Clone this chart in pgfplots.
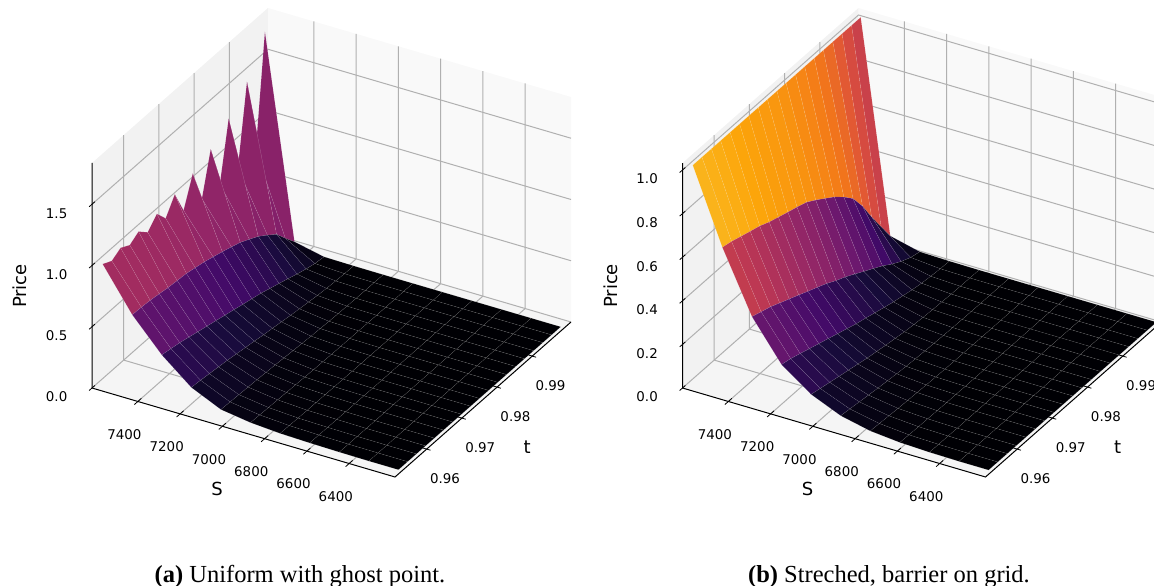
\documentclass[border=0pt]{standalone}
\usepackage{fontspec}
\setmainfont{DejaVu Sans}
\newfontfamily\capfont{Liberation Serif}
\usepackage{pgfplots}
\pgfplotsset{compat=1.18}

% inferno
\pgfplotsset{colormap={inferno}{
  rgb255=(0,0,4) rgb255=(22,11,57) rgb255=(66,10,104) rgb255=(106,23,110)
  rgb255=(147,38,103) rgb255=(188,55,84) rgb255=(221,81,58) rgb255=(243,120,25)
  rgb255=(252,165,10) rgb255=(246,215,70) rgb255=(252,255,164)}}

\definecolor{wallS}{gray}{0.95}
\definecolor{wallT}{gray}{0.975}
\definecolor{wallZ}{gray}{0.9625}
\definecolor{gridc}{HTML}{B0B0B0}

\pgfplotsset{panel/.style={
  set layers,
  clip=false,
  anchor=south west,
  x={(-0.2113pt,0.06206pt)},
  y={(3520pt,3100pt)},
  xmin=6183, xmax=7617,
  ymin=0.951, ymax=1.001,
  zmin=0,
  xtick={6400,6600,6800,7000,7200,7400},
  ytick={0.96,0.97,0.98,0.99},
  axis line style={draw=none},
  tick pos=lower,
  tick align=center,
  major tick length=9pt,
  tick style={draw=none},
  /pgf/number format/assume math mode=true,
  tick label style={font=\fontsize{13.4}{16}\selectfont},
  xticklabel style={anchor=center, xshift=-10pt, yshift=-30pt, /pgf/number format/1000 sep={}},
  yticklabel style={anchor=center, xshift=14pt, yshift=-28pt, /pgf/number format/fixed, /pgf/number format/fixed zerofill, /pgf/number format/precision=2},
  zticklabel style={anchor=center, xshift=-32pt, yshift=-6pt, /pgf/number format/fixed, /pgf/number format/fixed zerofill, /pgf/number format/precision=1},
  xlabel={S}, ylabel={t}, zlabel={Price},
  every axis x label/.style={at={(axis cs:6900,0.951,0)}, anchor=center, xshift=-26.5pt, yshift=-56.5pt, font=\fontsize{18}{22}\selectfont},
  every axis y label/.style={at={(axis cs:6183,0.98,0)}, anchor=center, xshift=30pt, yshift=-60pt, font=\fontsize{18}{22}\selectfont},
  surfstyle/.style={surf, shader=faceted, z buffer=none, colormap name=inferno,
    faceted color=white, draw opacity=0.2, line width=0.3pt, point meta=z},
  gridline/.style={on layer=axis grid, forget plot, gridc, line width=1pt, no marks},
  tickline/.style={forget plot, black, line width=0.8pt, no marks},
}}

\newcommand{\walls}[1]{
  \addplot3[on layer=axis background, forget plot, fill=wallS, draw=none] coordinates {(7617,0.951,0)(7617,1.001,0)(7617,1.001,#1)(7617,0.951,#1)};
  \addplot3[on layer=axis background, forget plot, fill=wallT, draw=none] coordinates {(7617,1.001,0)(6183,1.001,0)(6183,1.001,#1)(7617,1.001,#1)};
  \addplot3[on layer=axis background, forget plot, fill=wallZ, draw=none] coordinates {(7617,0.951,0)(6183,0.951,0)(6183,1.001,0)(7617,1.001,0)};
  \pgfplotsinvokeforeach{6400,6600,6800,7000,7200,7400}{
    \addplot3[gridline] coordinates {(##1,0.951,0)(##1,1.001,0)(##1,1.001,#1)};
    \addplot3[tickline] coordinates {(##1,0.950,0)(##1,0.952,0)};
  }
  \pgfplotsinvokeforeach{0.96,0.97,0.98,0.99}{
    \addplot3[gridline] coordinates {(6183,##1,0)(7617,##1,0)(7617,##1,#1)};
    \addplot3[tickline] coordinates {(6165,##1,0)(6201,##1,0)};
  }
  \draw[black, line width=1pt] (axis cs:7617,0.951,#1) -- (axis cs:7617,0.951,0) -- (axis cs:6183,0.951,0) -- (axis cs:6183,1.001,0);
}
\newcommand{\zgrid}[1]{
  \pgfplotsinvokeforeach{#1}{
    \addplot3[gridline] coordinates {(7617,0.951,##1)(7617,1.001,##1)(6183,1.001,##1)};
    \addplot3[tickline] coordinates {(7617,0.9502,##1)(7617,0.9518,##1)};
  }
}

\begin{document}
\begin{tikzpicture}

\begin{axis}[panel, at={(92pt,109pt)}, z={(0pt,122.5pt)}, zmax=1.837,
  ztick={0,0.5,1,1.5},
  point meta min=0, point meta max=1.80,
  every axis z label/.style={at={(axis cs:7617,0.951,0.8)}, anchor=center, xshift=-72pt, yshift=4pt, rotate=90, font=\fontsize{18}{22}\selectfont},
]
\walls{1.837}
\zgrid{0,0.5,1,1.5}
\addplot3[surfstyle] coordinates {
(7600,0.9991,1.70)(7600,0.9965,0.80)(7600,0.994,1.42)(7600,0.9914,0.78)(7600,0.9888,1.25)(7600,0.9863,0.78)(7600,0.9837,1.13)(7600,0.9812,0.79)(7600,0.9786,1.06)(7600,0.976,0.826)(7600,0.9735,1.02)(7600,0.9709,0.89)(7600,0.9684,0.99)(7600,0.9658,0.905)(7600,0.9632,0.977)(7600,0.9607,0.93)(7600,0.9581,0.973)(7600,0.9556,0.93)(7600,0.953,0.97)

(7460,0.9991,0.056)(7460,0.9965,0.15)(7460,0.994,0.246)(7460,0.9914,0.305)(7460,0.9888,0.36)(7460,0.9863,0.40)(7460,0.9837,0.44)(7460,0.9812,0.467)(7460,0.9786,0.493)(7460,0.976,0.517)(7460,0.9735,0.54)(7460,0.9709,0.557)(7460,0.9684,0.574)(7460,0.9658,0.582)(7460,0.9632,0.59)(7460,0.9607,0.603)(7460,0.9581,0.615)(7460,0.9556,0.622)(7460,0.953,0.627)

(7320,0.9991,0.004)(7320,0.9965,0.015)(7320,0.994,0.034)(7320,0.9914,0.058)(7320,0.9888,0.085)(7320,0.9863,0.11)(7320,0.9837,0.135)(7320,0.9812,0.16)(7320,0.9786,0.18)(7320,0.976,0.20)(7320,0.9735,0.22)(7320,0.9709,0.24)(7320,0.9684,0.26)(7320,0.9658,0.28)(7320,0.9632,0.30)(7320,0.9607,0.32)(7320,0.9581,0.34)(7320,0.9556,0.355)(7320,0.953,0.37)

(7180,0.9991,0.001)(7180,0.9965,0.003)(7180,0.994,0.007)(7180,0.9914,0.012)(7180,0.9888,0.02)(7180,0.9863,0.03)(7180,0.9837,0.04)(7180,0.9812,0.05)(7180,0.9786,0.063)(7180,0.976,0.075)(7180,0.9735,0.086)(7180,0.9709,0.10)(7180,0.9684,0.112)(7180,0.9658,0.125)(7180,0.9632,0.138)(7180,0.9607,0.148)(7180,0.9581,0.158)(7180,0.9556,0.168)(7180,0.953,0.175)

(7040,0.9991,0)(7040,0.9965,0.0005)(7040,0.994,0.001)(7040,0.9914,0.002)(7040,0.9888,0.004)(7040,0.9863,0.006)(7040,0.9837,0.009)(7040,0.9812,0.013)(7040,0.9786,0.017)(7040,0.976,0.023)(7040,0.9735,0.028)(7040,0.9709,0.034)(7040,0.9684,0.04)(7040,0.9658,0.045)(7040,0.9632,0.05)(7040,0.9607,0.054)(7040,0.9581,0.058)(7040,0.9556,0.062)(7040,0.953,0.066)

(6900,0.9991,0)(6900,0.9965,0)(6900,0.994,0)(6900,0.9914,0)(6900,0.9888,0.0005)(6900,0.9863,0.001)(6900,0.9837,0.002)(6900,0.9812,0.003)(6900,0.9786,0.004)(6900,0.976,0.005)(6900,0.9735,0.007)(6900,0.9709,0.009)(6900,0.9684,0.012)(6900,0.9658,0.015)(6900,0.9632,0.018)(6900,0.9607,0.021)(6900,0.9581,0.024)(6900,0.9556,0.027)(6900,0.953,0.03)

(6760,0.9991,0)(6760,0.9965,0)(6760,0.994,0)(6760,0.9914,0)(6760,0.9888,0)(6760,0.9863,0)(6760,0.9837,0)(6760,0.9812,0)(6760,0.9786,0.001)(6760,0.976,0.001)(6760,0.9735,0.002)(6760,0.9709,0.003)(6760,0.9684,0.004)(6760,0.9658,0.005)(6760,0.9632,0.006)(6760,0.9607,0.007)(6760,0.9581,0.009)(6760,0.9556,0.011)(6760,0.953,0.013)

(6620,0.9991,0)(6620,0.9965,0)(6620,0.994,0)(6620,0.9914,0)(6620,0.9888,0)(6620,0.9863,0)(6620,0.9837,0)(6620,0.9812,0)(6620,0.9786,0)(6620,0.976,0)(6620,0.9735,0)(6620,0.9709,0)(6620,0.9684,0.001)(6620,0.9658,0.001)(6620,0.9632,0.002)(6620,0.9607,0.003)(6620,0.9581,0.004)(6620,0.9556,0.005)(6620,0.953,0.006)

(6480,0.9991,0)(6480,0.9965,0)(6480,0.994,0)(6480,0.9914,0)(6480,0.9888,0)(6480,0.9863,0)(6480,0.9837,0)(6480,0.9812,0)(6480,0.9786,0)(6480,0.976,0)(6480,0.9735,0)(6480,0.9709,0)(6480,0.9684,0)(6480,0.9658,0)(6480,0.9632,0)(6480,0.9607,0)(6480,0.9581,0.001)(6480,0.9556,0.001)(6480,0.953,0.002)

(6340,0.9991,0)(6340,0.9965,0)(6340,0.994,0)(6340,0.9914,0)(6340,0.9888,0)(6340,0.9863,0)(6340,0.9837,0)(6340,0.9812,0)(6340,0.9786,0)(6340,0.976,0)(6340,0.9735,0)(6340,0.9709,0)(6340,0.9684,0)(6340,0.9658,0)(6340,0.9632,0)(6340,0.9607,0)(6340,0.9581,0)(6340,0.9556,0)(6340,0.953,0)

(6200,0.9991,0)(6200,0.9965,0)(6200,0.994,0)(6200,0.9914,0)(6200,0.9888,0)(6200,0.9863,0)(6200,0.9837,0)(6200,0.9812,0)(6200,0.9786,0)(6200,0.976,0)(6200,0.9735,0)(6200,0.9709,0)(6200,0.9684,0)(6200,0.9658,0)(6200,0.9632,0)(6200,0.9607,0)(6200,0.9581,0)(6200,0.9556,0)(6200,0.953,0)
};
\end{axis}

\begin{axis}[panel, at={(682.5pt,109pt)}, z={(0pt,218pt)}, zmax=1.032,
  ztick={0,0.2,0.4,0.6,0.8,1},
  point meta min=0, point meta max=1,
  every axis z label/.style={at={(axis cs:7617,0.951,0.45)}, anchor=center, xshift=-72pt, yshift=4pt, rotate=90, font=\fontsize{18}{22}\selectfont},
]
\walls{1.032}
\zgrid{0,0.2,0.4,0.6,0.8,1}
\addplot3[surfstyle] coordinates {
(7600,1.0006,1)(7600,0.998,1)(7600,0.9953,1)(7600,0.9927,1)(7600,0.99,1)(7600,0.9874,1)(7600,0.9847,1)(7600,0.9821,1)(7600,0.9794,1)(7600,0.9768,1)(7600,0.9741,1)(7600,0.9715,1)(7600,0.9688,1)(7600,0.9662,1)(7600,0.9635,1)(7600,0.9608,1)(7600,0.9582,1)(7600,0.9555,1)(7600,0.9529,1)

(7460,1.0006,0.037)(7460,0.998,0.116)(7460,0.9953,0.199)(7460,0.9927,0.286)(7460,0.99,0.359)(7460,0.9874,0.403)(7460,0.9847,0.442)(7460,0.9821,0.472)(7460,0.9794,0.503)(7460,0.9768,0.53)(7460,0.9741,0.546)(7460,0.9715,0.56)(7460,0.9688,0.575)(7460,0.9662,0.59)(7460,0.9635,0.61)(7460,0.9608,0.624)(7460,0.9582,0.638)(7460,0.9555,0.653)(7460,0.9529,0.663)

(7320,1.0006,0.004)(7320,0.998,0.015)(7320,0.9953,0.035)(7320,0.9927,0.06)(7320,0.99,0.09)(7320,0.9874,0.115)(7320,0.9847,0.14)(7320,0.9821,0.165)(7320,0.9794,0.19)(7320,0.9768,0.21)(7320,0.9741,0.235)(7320,0.9715,0.255)(7320,0.9688,0.275)(7320,0.9662,0.295)(7320,0.9635,0.315)(7320,0.9608,0.335)(7320,0.9582,0.355)(7320,0.9555,0.37)(7320,0.9529,0.385)

(7180,1.0006,0.001)(7180,0.998,0.003)(7180,0.9953,0.007)(7180,0.9927,0.012)(7180,0.99,0.02)(7180,0.9874,0.03)(7180,0.9847,0.04)(7180,0.9821,0.052)(7180,0.9794,0.065)(7180,0.9768,0.078)(7180,0.9741,0.09)(7180,0.9715,0.105)(7180,0.9688,0.12)(7180,0.9662,0.135)(7180,0.9635,0.15)(7180,0.9608,0.165)(7180,0.9582,0.18)(7180,0.9555,0.195)(7180,0.9529,0.205)

(7040,1.0006,0)(7040,0.998,0.0005)(7040,0.9953,0.001)(7040,0.9927,0.002)(7040,0.99,0.004)(7040,0.9874,0.006)(7040,0.9847,0.009)(7040,0.9821,0.013)(7040,0.9794,0.018)(7040,0.9768,0.025)(7040,0.9741,0.032)(7040,0.9715,0.04)(7040,0.9688,0.048)(7040,0.9662,0.058)(7040,0.9635,0.068)(7040,0.9608,0.078)(7040,0.9582,0.088)(7040,0.9555,0.098)(7040,0.9529,0.108)

(6900,1.0006,0)(6900,0.998,0)(6900,0.9953,0)(6900,0.9927,0)(6900,0.99,0.0005)(6900,0.9874,0.001)(6900,0.9847,0.002)(6900,0.9821,0.003)(6900,0.9794,0.005)(6900,0.9768,0.007)(6900,0.9741,0.009)(6900,0.9715,0.012)(6900,0.9688,0.016)(6900,0.9662,0.021)(6900,0.9635,0.026)(6900,0.9608,0.032)(6900,0.9582,0.038)(6900,0.9555,0.044)(6900,0.9529,0.05)

(6760,1.0006,0)(6760,0.998,0)(6760,0.9953,0)(6760,0.9927,0)(6760,0.99,0)(6760,0.9874,0)(6760,0.9847,0)(6760,0.9821,0)(6760,0.9794,0.001)(6760,0.9768,0.001)(6760,0.9741,0.002)(6760,0.9715,0.003)(6760,0.9688,0.005)(6760,0.9662,0.007)(6760,0.9635,0.009)(6760,0.9608,0.011)(6760,0.9582,0.014)(6760,0.9555,0.017)(6760,0.9529,0.02)

(6620,1.0006,0)(6620,0.998,0)(6620,0.9953,0)(6620,0.9927,0)(6620,0.99,0)(6620,0.9874,0)(6620,0.9847,0)(6620,0.9821,0)(6620,0.9794,0)(6620,0.9768,0)(6620,0.9741,0)(6620,0.9715,0)(6620,0.9688,0.001)(6620,0.9662,0.001)(6620,0.9635,0.002)(6620,0.9608,0.003)(6620,0.9582,0.004)(6620,0.9555,0.005)(6620,0.9529,0.007)

(6480,1.0006,0)(6480,0.998,0)(6480,0.9953,0)(6480,0.9927,0)(6480,0.99,0)(6480,0.9874,0)(6480,0.9847,0)(6480,0.9821,0)(6480,0.9794,0)(6480,0.9768,0)(6480,0.9741,0)(6480,0.9715,0)(6480,0.9688,0)(6480,0.9662,0)(6480,0.9635,0)(6480,0.9608,0)(6480,0.9582,0.001)(6480,0.9555,0.001)(6480,0.9529,0.002)

(6340,1.0006,0)(6340,0.998,0)(6340,0.9953,0)(6340,0.9927,0)(6340,0.99,0)(6340,0.9874,0)(6340,0.9847,0)(6340,0.9821,0)(6340,0.9794,0)(6340,0.9768,0)(6340,0.9741,0)(6340,0.9715,0)(6340,0.9688,0)(6340,0.9662,0)(6340,0.9635,0)(6340,0.9608,0)(6340,0.9582,0)(6340,0.9555,0)(6340,0.9529,0)

(6200,1.0006,0)(6200,0.998,0)(6200,0.9953,0)(6200,0.9927,0)(6200,0.99,0)(6200,0.9874,0)(6200,0.9847,0)(6200,0.9821,0)(6200,0.9794,0)(6200,0.9768,0)(6200,0.9741,0)(6200,0.9715,0)(6200,0.9688,0)(6200,0.9662,0)(6200,0.9635,0)(6200,0.9608,0)(6200,0.9582,0)(6200,0.9555,0)(6200,0.9529,0)
};
\end{axis}

\node[font=\capfont\fontsize{24.5}{28}\selectfont] at (300pt,9.5pt) {\textbf{(a)} Uniform with ghost point.};
\node[font=\capfont\fontsize{24.5}{28}\selectfont] at (889pt,9.5pt) {\textbf{(b)} Streched, barrier on grid.};
\pgfresetboundingbox
\path[use as bounding box] (0,0) rectangle (1154pt,586pt);
\end{tikzpicture}
\end{document}
